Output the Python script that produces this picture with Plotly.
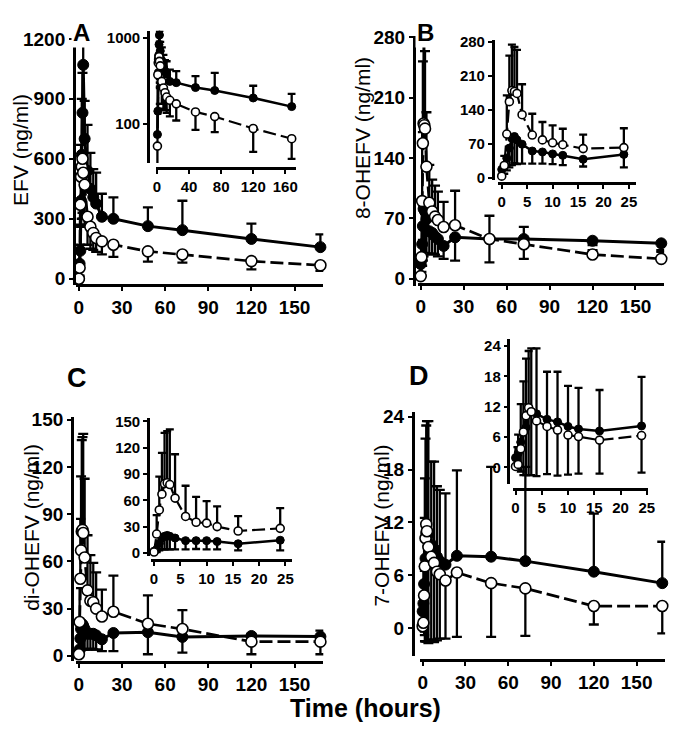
import plotly.graph_objects as go

# ---------------- data ----------------
time_h = [0, 0.5, 1, 1.5, 2, 2.5, 3, 4, 6, 8, 10, 12, 16, 24, 48, 72, 120, 168]

# EFV (ng/ml)
efv_closed = [0, 75, 140, 390, 620, 830, 1070, 700, 540, 450, 408, 376, 310, 300, 263, 243, 199, 158]
efv_closed_err = [0, 55, 130, 280, 280, 200, 130, 190, 230, 180, 140, 155, 115, 107, 94, 147, 77, 64]
efv_open = [0, 55, 370, 510, 560, 600, 530, 470, 310, 260, 229, 204, 187, 170, 137, 121, 88, 67]
efv_open_err = [0, 40, 200, 250, 260, 270, 230, 200, 140, 110, 85, 70, 65, 61, 52, 41, 41, 28]

# 8-OHEFV (ng/ml)
oh8_closed = [17, 22, 40, 61, 81, 85, 78, 69, 55, 53, 49, 46, 38, 48, 46, 46, 44, 41]
oh8_closed_err = [10, 14, 25, 40, 55, 55, 50, 40, 26, 24, 21, 20, 15, 27, 27, 23, 5, 10]
oh8_open = [3, 25, 90, 157, 180, 178, 174, 130, 88, 78, 72, 68, 60, 62, 46, 40, 28, 23]
oh8_open_err = [3, 20, 80, 95, 95, 92, 90, 63, 44, 37, 36, 33, 29, 40, 27, 20, 5, 10]

# di-OHEFV (ng/ml)
dioh_closed = [2, 4, 11, 17, 19, 20, 19, 17, 14, 14, 14, 13, 10.5, 14.5, 15, 12, 12.6, 12.2]
dioh_closed_err = [2, 3, 8, 13, 15, 16, 15, 13, 10, 9.5, 10, 9, 7.5, 11.5, 14, 10, 11.6, 11.2]
dioh_open = [1, 21.5, 49, 67, 79, 80, 78, 62.5, 41.6, 35, 34, 30, 25, 28, 20.4, 17, 9, 9]
dioh_open_err = [0, 21.5, 38, 47, 58, 59, 63, 50, 35, 29, 25, 23, 17, 23, 18, 12, 5, 7]

# 7-OHEFV (ng/ml)
oh7_closed = [1.9, 2.8, 5.0, 7.0, 7.9, 10.8, 11.0, 10.6, 9.5, 9.0, 8.1, 7.6, 7.2, 8.2, 8.1, 7.6, 6.4, 5.1]
oh7_closed_err = [2.1, 3.7, 7.5, 10, 13.6, 12.2, 12.5, 12.9, 9.4, 9.9, 8.0, 8.1, 8.1, 9.7, 10.2, 10.7, 6.6, 4.7]
oh7_open = [0.2, 0.6, 3.7, 7.0, 10.2, 11.8, 11.0, 9.2, 8.1, 7.4, 6.4, 6.1, 5.4, 6.3, 5.1, 4.5, 2.5, 2.5]
oh7_open_err = [0.2, 1.0, 4.5, 8.5, 11.7, 13.3, 12.5, 10.9, 9.4, 9.0, 7.8, 7.3, 6.6, 7.3, 6.1, 5.4, 2.1, 3.1]

# tick labels
efv_yticks = [0, 300, 600, 900, 1200]
efv_inset_yticks = [100, 1000]
oh8_yticks = [0, 70, 140, 210, 280]
dioh_yticks = [0, 30, 60, 90, 120, 150]
oh7_yticks = [0, 6, 12, 18, 24]
main_xticks = [0, 30, 60, 90, 120, 150]
efv_inset_xticks = [0, 40, 80, 120, 160]
inset_xticks = [0, 5, 10, 15, 20, 25]

panel_letters = ["A", "B", "C", "D"]
y_titles = ["EFV (ng/ml)", "8-OHEFV (ng/ml)", "di-OHEFV (ng/ml)", "7-OHEFV (ng/ml)"]
x_title = "Time (hours)"

# ---------------- layout helpers ----------------
# the figure div is offset inside the page; compensate so page pixels line up
OFFX, OFFY = 8, 16
W, H = 680 - OFFX, 737 - OFFY
FONT = "Liberation Sans, Arial, sans-serif"


def fx(p):
    return (p - OFFX) / W


def fy(p):
    return 1 - (p - OFFY) / H


fig = go.Figure()


def add_axes(idx, xdom, xrng, xpos, xticks, ydom, yrng, ypos, yticks,
             ylog=False, fsize=19, yticktext=None, lw=3):
    xn = "xaxis" if idx == 1 else f"xaxis{idx}"
    yn = "yaxis" if idx == 1 else f"yaxis{idx}"
    common = dict(showgrid=False, zeroline=False, showline=True, linecolor="black",
                  linewidth=lw, ticks="outside", ticklen=4, tickwidth=2, tickcolor="black",
                  tickfont=dict(family=FONT, size=fsize, color="black", weight="bold"),
                  fixedrange=True)
    xa = dict(common, domain=[fx(xdom[0]), fx(xdom[1])], range=xrng, anchor="free",
              position=fy(xpos), tickmode="array", tickvals=xticks)
    ya = dict(common, domain=[fy(ydom[0]), fy(ydom[1])], range=yrng, anchor="free",
              position=fx(ypos), tickmode="array", tickvals=yticks)
    if ylog:
        ya["type"] = "log"
    if yticktext is not None:
        ya["ticktext"] = yticktext
    fig.update_layout(**{xn: xa, yn: ya})


def add_series(idx, t, closed, cerr, cdir, opn, oerr, odir, msize, ewidth, lw, log=False):
    xr = "x" if idx == 1 else f"x{idx}"
    yr = "y" if idx == 1 else f"y{idx}"
    zeros = [0] * len(t)
    if log:
        closed = [v if v > 0 else None for v in closed]
        opn = [v if v > 0 else None for v in opn]

    def eb(err, direction):
        return dict(type="data", symmetric=False,
                    array=err if direction == "up" else zeros,
                    arrayminus=err if direction == "down" else zeros,
                    color="black", thickness=2.3, width=ewidth)

    fig.add_trace(go.Scatter(
        x=t, y=closed, xaxis=xr, yaxis=yr, mode="lines+markers", cliponaxis=False,
        line=dict(color="black", width=lw), connectgaps=True,
        marker=dict(symbol="circle", size=msize, color="black",
                    line=dict(color="black", width=1)),
        error_y=eb(cerr, cdir), showlegend=False))
    fig.add_trace(go.Scatter(
        x=t, y=opn, xaxis=xr, yaxis=yr, mode="lines+markers", cliponaxis=False,
        line=dict(color="black", width=lw - 0.3, dash="13px,5px"), connectgaps=True,
        marker=dict(symbol="circle", size=msize, color="white",
                    line=dict(color="black", width=1.6)),
        error_y=eb(oerr, odir), showlegend=False))


n_in = 14  # inset shows first 24 h

# ---- Panel A ----
add_axes(1, (74, 325), [-2, 170], 290, main_xticks, (289.4, 32.2), [-30, 1230], 72, efv_yticks)
add_series(1, time_h, efv_closed, efv_closed_err, "up", efv_open, efv_open_err, "down", 11, 5, 3)
add_axes(2, (155, 297), [-1.5, 173], 170, efv_inset_xticks, (165, 30), [1.545, 3.08], 147,
         efv_inset_yticks, ylog=True, fsize=15, yticktext=["100", "1000"], lw=2.5)
add_series(2, time_h, efv_closed, efv_closed_err, "up", efv_open, efv_open_err, "down", 8, 4, 2.5, log=True)

# ---- Panel B ----
add_axes(3, (421, 671), [-2, 170], 289, main_xticks, (290.3, 34.9), [-8, 282], 417, oh8_yticks)
add_series(3, time_h, oh8_closed, oh8_closed_err, "down", oh8_open, oh8_open_err, "up", 11, 5, 3)
add_axes(4, (502, 642), [-0.8, 26.3], 186, inset_xticks, (182.5, 39.2), [-5, 285], 497, oh8_yticks,
         fsize=15, lw=2.5)
add_series(4, time_h[:n_in], oh8_closed[:n_in], oh8_closed_err[:n_in], "down",
           oh8_open[:n_in], oh8_open_err[:n_in], "up", 8, 4, 2.5)

# ---- Panel C ----
add_axes(5, (74, 325), [-2, 170], 675, main_xticks, (673.2, 424.1), [-3, 152], 70, dioh_yticks)
add_series(5, time_h, dioh_closed, dioh_closed_err, "down", dioh_open, dioh_open_err, "up", 11, 5, 3)
add_axes(6, (150, 293), [-0.6, 26.2], 571, inset_xticks, (566.9, 425.4), [-4, 154], 147, dioh_yticks,
         fsize=15, lw=2.5)
add_series(6, time_h[:n_in], dioh_closed[:n_in], dioh_closed_err[:n_in], "down",
           dioh_open[:n_in], dioh_open_err[:n_in], "up", 8, 4, 2.5)

# ---- Panel D ----
add_axes(7, (423, 672), [-2, 170], 673, main_xticks, (668.8, 419.7), [-3.2, 24.5], 416, oh7_yticks)
add_series(7, time_h, oh7_closed, oh7_closed_err, "up", oh7_open, oh7_open_err, "down", 11, 5, 3)
add_axes(8, (518, 655), [-0.4, 25.3], 498, inset_xticks, (493.1, 345.2), [-3.3, 25.3], 513, oh7_yticks,
         fsize=15, lw=2.5)
add_series(8, time_h[:n_in], oh7_closed[:n_in], oh7_closed_err[:n_in], "up",
           oh7_open[:n_in], oh7_open_err[:n_in], "down", 8, 4, 2.5)

# ---------------- annotations ----------------
ann = []
# (x centre, y, yanchor, size)
letter_pos = [(80, 16, "top", 24), (429, 16, "top", 24), (75, 385, "middle", 27), (422, 383, "middle", 27)]
for letter, (px, py, ya, sz) in zip(panel_letters, letter_pos):
    ann.append(dict(text=letter, x=fx(px), y=fy(py), xref="paper", yref="paper",
                    showarrow=False, xanchor="center", yanchor=ya, bgcolor="white",
                    font=dict(family=FONT, size=sz, color="black", weight="bold")))
title_pos = [(17, 152), (365, 140), (28, 537), (384, 535)]
for t, (px, py) in zip(y_titles, title_pos):
    ann.append(dict(text=t, x=fx(px), y=fy(py), xref="paper", yref="paper",
                    showarrow=False, xanchor="center", yanchor="middle", textangle=-90,
                    font=dict(family=FONT, size=21, color="black")))
ann.append(dict(text=x_title, x=fx(368), y=fy(722), xref="paper", yref="paper",
                showarrow=False, xanchor="center", yanchor="middle",
                font=dict(family=FONT, size=25, color="black", weight="bold")))

fig.update_layout(width=W, height=H, margin=dict(l=0, r=0, t=0, b=0),
                  paper_bgcolor="white", plot_bgcolor="rgba(0,0,0,0)",
                  showlegend=False, annotations=ann)

fig.write_html("out.html")
